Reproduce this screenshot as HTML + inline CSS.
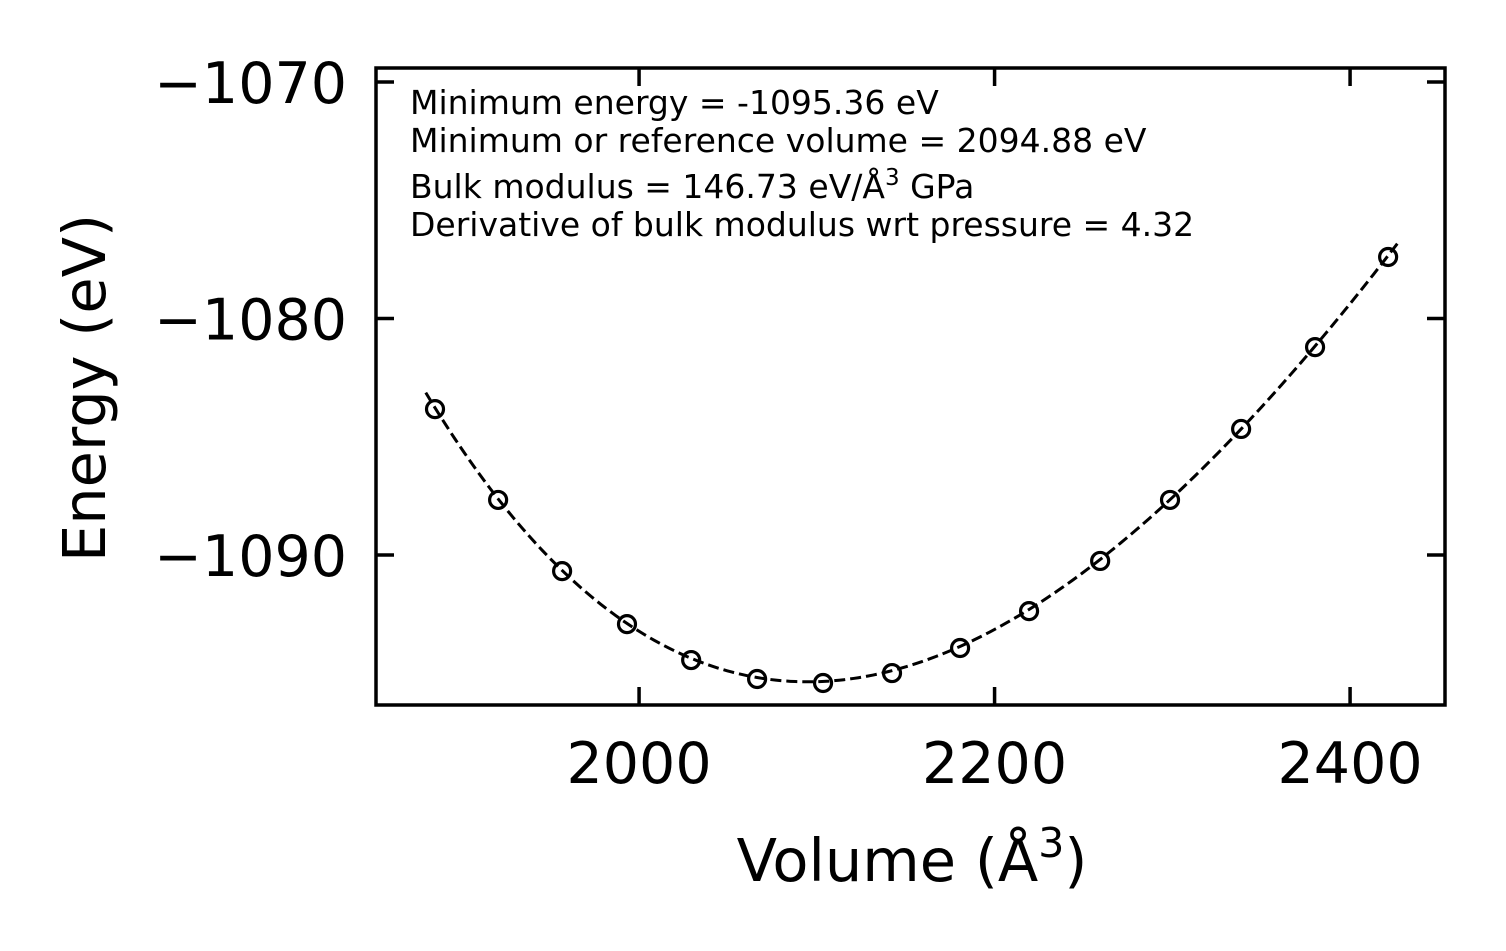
<!DOCTYPE html>
<html><head><meta charset="utf-8"><style>
html,body{margin:0;padding:0;background:#fff;}
svg{display:block;font-family:"DejaVu Sans","Liberation Sans",sans-serif;}
</style></head><body>
<svg id="chart" width="1506" height="951" viewBox="0 0 1506 951"></svg>
<script>
const volumes=[1885.2,1920.7,1956.7,1993.2,2029.3,2066.4,2103.5,2142.3,2180.6,2219.4,2259.4,2298.7,2338.7,2380.3,2421.4];
const energies=[-1083.83,-1087.67,-1090.68,-1092.92,-1094.44,-1095.24,-1095.41,-1094.99,-1093.93,-1092.37,-1090.25,-1087.67,-1084.67,-1081.21,-1077.40];
const xTicks=[2000,2200,2400];
const yTicks=[-1070,-1080,-1090];
const fitParams=[-1095.36,2094.88,146.73,4.32];
const fitRange=[1880,2427];

const NS="http://www.w3.org/2000/svg";
const svg=document.getElementById('chart');
const L=376,R=1445,T=68,B=705;
const X0=1852,X1=2453.4,Y0=-1096.34,Y1=-1069.41;
const sx=v=>L+(v-X0)/(X1-X0)*(R-L);
const sy=v=>B-(v-Y0)/(Y1-Y0)*(B-T);
function mk(tag,attrs,parent){const e=document.createElementNS(NS,tag);for(const k in attrs)e.setAttribute(k,attrs[k]);(parent||svg).appendChild(e);return e;}

const [E0,V0,Bg,Bp]=fitParams;const Bv=Bg/160.21766;
function bm(V){const eta=Math.pow(V0/V,2/3);const d=eta-1;return E0+9*V0*Bv/16*(d*d*d*Bp+d*d*(6-4*eta));}
let d='';for(let i=0;i<=200;i++){const v=fitRange[0]+(fitRange[1]-fitRange[0])*i/200;d+=(i?'L':'M')+sx(v).toFixed(2)+' '+sy(bm(v)).toFixed(2);}
const fit=mk('path',{d:d,fill:'none',stroke:'#000','stroke-width':3,'stroke-dasharray':'11 5'});



volumes.forEach((v,i)=>{
  const c=mk('circle',{cx:sx(v),cy:sy(energies[i]),r:8.5,fill:'none',stroke:'#000','stroke-width':3.2});
  
  
});

const frame=mk('rect',{x:L,y:T,width:R-L,height:B-T,fill:'none',stroke:'#000','stroke-width':3.5});



xTicks.forEach(t=>{
  const x=sx(t);
  mk('line',{x1:x,y1:B,x2:x,y2:B-18,stroke:'#000','stroke-width':3.5});
  mk('line',{x1:x,y1:T,x2:x,y2:T+18,stroke:'#000','stroke-width':3.5});
  const tx=mk('text',{x:x,y:783,'font-size':57,'text-anchor':'middle'});
  tx.textContent=t;
  
  
});
yTicks.forEach(t=>{
  const y=sy(t);
  mk('line',{x1:L,y1:y,x2:L+18,y2:y,stroke:'#000','stroke-width':3.5});
  mk('line',{x1:R,y1:y,x2:R-18,y2:y,stroke:'#000','stroke-width':3.5});
  const tx=mk('text',{x:347,y:y+21,'font-size':57,'text-anchor':'end'});
  tx.textContent='\u2212'+Math.abs(t);
  
  
});
</script>
<svg style="position:absolute;left:0;top:0" width="1506" height="951">
<g font-family="DejaVu Sans, Liberation Sans, sans-serif" font-size="33" fill="#000">
<text x="410" y="114">Minimum energy = -1095.36 eV</text>
<text x="410" y="152">Minimum or reference volume = 2094.88 eV</text>
<text x="410" y="198">Bulk modulus = 146.73 eV/Å<tspan font-size="23" dy="-13">3</tspan><tspan dy="13"> GPa</tspan></text>
<text x="410" y="236">Derivative of bulk modulus wrt pressure = 4.32</text>
</g>
<text x="912" y="881" font-family="DejaVu Sans, Liberation Sans, sans-serif" font-size="59" text-anchor="middle">Volume (Å<tspan font-size="41" dy="-24">3</tspan><tspan dy="24">)</tspan></text>
<text transform="translate(105,388) rotate(-90)" font-family="DejaVu Sans, Liberation Sans, sans-serif" font-size="59" text-anchor="middle">Energy (eV)</text>
</svg>
</body></html>
